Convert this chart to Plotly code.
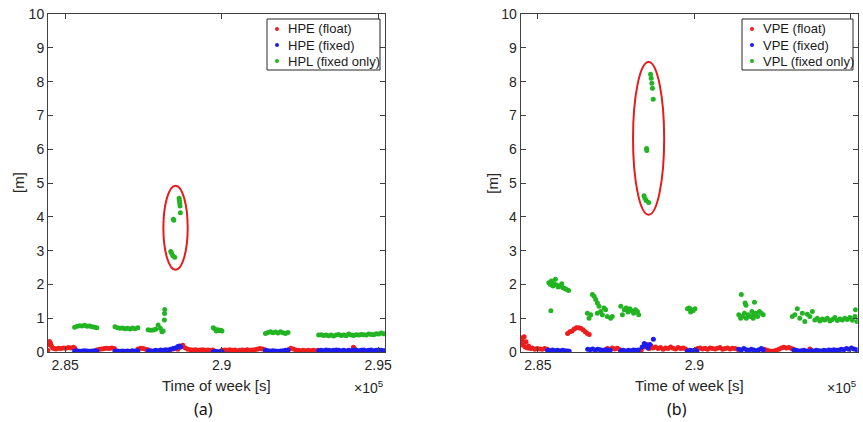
import plotly.graph_objects as go
from plotly.subplots import make_subplots

# Time of week [s] and position errors / protection levels [m].
# (a) horizontal
hpe_float_t = [284440, 284470, 284500, 284530, 284560, 284600, 284650, 284700, 284780, 284860, 284940, 285020, 285100, 285180, 285260, 285300,
               286010, 286090, 286170, 286250, 286330, 286410, 286490, 286570,
               287330, 287410, 287490, 287570, 287640,
               288350, 288450, 288600, 288700, 288760, 288840, 288920, 289000, 289080, 289160, 289240, 289320, 289400, 289480, 289560, 289640, 289720,
               290020, 290100, 290180, 290260, 290340, 290420, 290500, 290580, 290660, 290740, 290820, 290900, 290980, 291060, 291140, 291220, 291300, 291380,
               292130, 292210, 292290, 292370, 292450, 292530, 292610, 292690, 292770, 292850, 292930, 293010, 293090,
               294210, 294240]
hpe_float_v = [0.05, 0.22, 0.31, 0.26, 0.18, 0.12, 0.10, 0.09, 0.11, 0.10, 0.12, 0.11, 0.13, 0.12, 0.14, 0.12,
               0.06, 0.08, 0.09, 0.10, 0.11, 0.10, 0.12, 0.10,
               0.09, 0.11, 0.10, 0.08, 0.07,
               0.06, 0.09, 0.08, 0.17, 0.20, 0.12, 0.08, 0.07, 0.06, 0.07, 0.05, 0.06, 0.07, 0.05, 0.06, 0.05, 0.06,
               0.05, 0.06, 0.05, 0.07, 0.05, 0.06, 0.04, 0.05, 0.06, 0.05, 0.07, 0.05, 0.06, 0.07, 0.08, 0.10, 0.09, 0.07,
               0.06, 0.11, 0.09, 0.06, 0.05, 0.04, 0.05, 0.04, 0.05, 0.04, 0.05, 0.04, 0.05,
               0.14, 0.10]

hpe_fixed_t = [285300, 285380, 285460, 285540, 285620, 285700, 285780, 285860, 285940, 286010,
               286590, 286670, 286750, 286830, 286910, 286990, 287070, 287150, 287230, 287320,
               287650, 287730, 287810, 287890, 287970, 288050, 288130, 288210, 288290, 288370, 288450, 288530, 288600, 288650, 288690,
               289730, 289810, 289890, 289970, 290010,
               291400, 291480, 291560, 291640, 291720, 291800, 291880, 291960, 292040, 292120,
               293100, 293180, 293260, 293340, 293420, 293500, 293580, 293660, 293740, 293820, 293900, 293980, 294060, 294140,
               294220, 294300, 294380, 294460, 294540, 294620, 294700, 294780, 294860, 294940, 295020, 295100, 295180]
hpe_fixed_v = [0.03, 0.04, 0.02, 0.03, 0.04, 0.03, 0.02, 0.03, 0.04, 0.03,
               0.02, 0.03, 0.02, 0.03, 0.02, 0.03, 0.02, 0.04, 0.03, 0.04,
               0.03, 0.04, 0.03, 0.05, 0.04, 0.06, 0.05, 0.07, 0.06, 0.08, 0.10, 0.12, 0.16, 0.18, 0.15,
               0.01, 0.02, 0.01, 0.02, 0.01,
               0.05, 0.04, 0.03, 0.04, 0.03, 0.02, 0.03, 0.04, 0.05, 0.06,
               0.04, 0.05, 0.04, 0.06, 0.05, 0.04, 0.05, 0.06, 0.05, 0.04, 0.05, 0.03, 0.05, 0.04,
               0.06, 0.05, 0.04, 0.05, 0.06, 0.04, 0.05, 0.06, 0.04, 0.05, 0.06, 0.05, 0.04]

hpl_t = [285300, 285380, 285460, 285540, 285620, 285700, 285780, 285860, 285940, 286010,
         286590, 286670, 286750, 286830, 286910, 286990, 287070, 287150, 287230, 287320,
         287650, 287730, 287810, 287890, 287970, 288040, 288090, 288130,
         288170, 288175, 288180,
         288372, 288400, 288440, 288500, 288455, 288470, 288640, 288650, 288660, 288670, 288680,
         289730, 289780, 289830, 289880, 289930, 289980, 290010,
         291400, 291480, 291560, 291640, 291720, 291800, 291880, 291960, 292040, 292120,
         293100, 293180, 293260, 293340, 293420, 293500, 293580, 293660, 293740, 293820, 293900, 293980, 294060, 294140,
         294220, 294300, 294380, 294460, 294540, 294620, 294700, 294780, 294860, 294940, 295020, 295100, 295180]
hpl_v = [0.73, 0.76, 0.78, 0.77, 0.79, 0.76, 0.77, 0.75, 0.73, 0.72,
         0.75, 0.72, 0.70, 0.71, 0.69, 0.70, 0.68, 0.71, 0.69, 0.72,
         0.66, 0.64, 0.65, 0.67, 0.80, 0.70, 0.60, 0.62,
         0.95, 1.14, 1.26,
         2.97, 2.92, 2.85, 2.80, 3.93, 3.90, 4.55, 4.48, 4.40, 4.32, 4.12,
         0.72, 0.68, 0.62, 0.66, 0.63, 0.64, 0.62,
         0.55, 0.58, 0.60, 0.57, 0.59, 0.56, 0.60, 0.57, 0.55, 0.58,
         0.50, 0.51, 0.49, 0.50, 0.48, 0.50, 0.47, 0.50, 0.52, 0.49, 0.50, 0.48, 0.53, 0.50,
         0.49, 0.51, 0.50, 0.52, 0.51, 0.50, 0.53, 0.52, 0.51, 0.54, 0.53, 0.56, 0.54]

# (b) vertical
vpe_float_t = [284490, 284510, 284530, 284560, 284590, 284620, 284660, 284700, 284760, 284820, 284900, 284980, 285060, 285140, 285220, 285300,
               285950, 286020, 286090, 286160, 286230, 286300, 286370, 286440, 286510, 286580, 286640,
               287220, 287300, 287380, 287460, 287540, 287620,
               288300, 288400, 288480, 288560, 288620,
               288680, 288760, 288840, 288920, 289000, 289080, 289160, 289240, 289320, 289400, 289480, 289560, 289640, 289720,
               290100, 290180, 290260, 290340, 290420, 290500, 290580, 290660, 290740, 290820, 290900, 290980, 291060, 291140, 291220, 291300, 291380,
               292220, 292300, 292380, 292460, 292540, 292620, 292700, 292780, 292860, 292940, 293020, 293100, 293170,
               293690, 293720]
vpe_float_v = [0.30, 0.42, 0.20, 0.45, 0.15, 0.30, 0.12, 0.18, 0.10, 0.12, 0.08, 0.10, 0.09, 0.08, 0.10, 0.08,
               0.55, 0.60, 0.62, 0.68, 0.72, 0.72, 0.70, 0.66, 0.60, 0.55, 0.52,
               0.10, 0.08, 0.12, 0.09, 0.11, 0.07,
               0.05, 0.15, 0.22, 0.10, 0.18,
               0.12, 0.15, 0.10, 0.13, 0.08, 0.12, 0.10, 0.15, 0.11, 0.09, 0.13, 0.10, 0.12, 0.09,
               0.10, 0.12, 0.09, 0.11, 0.08, 0.12, 0.10, 0.09, 0.11, 0.13, 0.08, 0.10, 0.12, 0.09, 0.11, 0.10, 0.08,
               0.08, 0.06, 0.04, 0.02, 0.03, 0.05, 0.08, 0.12, 0.14, 0.12, 0.13, 0.10, 0.08,
               0.09, 0.06]

vpe_fixed_t = [285310, 285390, 285470, 285550, 285630, 285710, 285790, 285870, 285950, 286000,
               286590, 286670, 286750, 286830, 286910, 286990, 287070, 287150, 287230, 287310,
               287650, 287730, 287810, 287890, 287970, 288050, 288130, 288210,
               288330, 288400, 288450, 288520, 288580, 288690,
               289780, 289860, 289940, 290020, 290080,
               291420, 291500, 291580, 291660, 291740, 291820, 291900, 291980, 292060, 292140, 292200,
               293180, 293260, 293340, 293420, 293500, 293580, 293660, 293740, 293820, 293900, 293980, 294060, 294140,
               294220, 294300, 294380, 294460, 294540, 294620, 294700, 294780, 294860, 294940, 295020, 295100, 295180]
vpe_fixed_v = [0.05, 0.04, 0.06, 0.04, 0.05, 0.03, 0.05, 0.04, 0.03, 0.02,
               0.08, 0.07, 0.09, 0.06, 0.08, 0.07, 0.05, 0.07, 0.06, 0.05,
               0.04, 0.05, 0.03, 0.05, 0.04, 0.06, 0.05, 0.06,
               0.15, 0.25, 0.20, 0.12, 0.22, 0.38,
               0.03, 0.05, 0.04, 0.06, 0.03,
               0.08, 0.06, 0.10, 0.07, 0.05, 0.08, 0.06, 0.04, 0.07, 0.10, 0.06,
               0.06, 0.05, 0.03, 0.04, 0.05, 0.03, 0.02, 0.04, 0.03, 0.05, 0.04, 0.03, 0.05,
               0.04, 0.06, 0.05, 0.07, 0.05, 0.06, 0.08, 0.07, 0.10, 0.08, 0.12, 0.09, 0.07]

vpl_t = [285350, 285400, 285430, 285480, 285520, 285560, 285600, 285650, 285700, 285760, 285800, 285860, 285920, 285980, 285414,
         286582, 286635, 286688, 286741, 286794, 286847, 286900, 286900, 286953, 287006, 287059, 287112, 287165, 287218, 287324, 287377,
         287650, 287700, 287760, 287820, 287880, 287940, 288000, 288060, 288120, 288180, 288220,
         288390, 288420, 288460, 288540, 288472, 288480, 288600, 288620, 288640, 288660, 288685,
         289780, 289840, 289900, 289960, 290020, 289880,
         291500, 291620, 291650, 291920, 291420, 291480, 291540, 291600, 291660, 291720, 291780, 291840, 291900, 291960, 292020, 292080, 292140, 292200, 291880,
         293130, 293210, 293290, 293370, 293450, 293530, 293610, 293690, 293770, 293850, 293930, 294010, 294090, 294170,
         294250, 294330, 294410, 294490, 294570, 294650, 294730, 294810, 294890, 294970, 295050, 295130, 295200, 295150]
vpl_v = [2.05, 2.00, 2.10, 1.95, 2.02, 2.15, 1.98, 1.92, 1.95, 2.02, 1.90, 1.88, 1.85, 1.82, 1.22,
         1.15, 1.00, 1.10, 1.70, 1.65, 1.55, 1.45, 1.15, 1.35, 1.20, 1.10, 1.30, 1.25, 1.05, 1.00, 1.05,
         1.35, 1.10, 1.25, 1.30, 1.18, 1.28, 1.22, 1.15, 1.25, 1.20, 1.10,
         4.62, 4.55, 4.48, 4.42, 6.02, 5.96, 8.22, 8.10, 7.95, 7.80, 7.48,
         1.28, 1.30, 1.25, 1.22, 1.28, 1.18,
         1.70, 1.45, 1.38, 1.47, 1.10, 1.00, 1.05, 1.15, 1.00, 1.10, 1.05, 1.20, 1.10, 1.15, 1.05, 1.20, 1.15, 1.10, 1.00,
         1.05, 1.10, 1.28, 1.00, 1.15, 0.90, 1.12, 1.05, 1.20, 0.95, 1.00, 0.92, 0.98, 0.95,
         1.00, 0.92, 0.96, 1.02, 0.93, 0.98, 0.95, 1.00, 0.96, 1.02, 0.94, 1.05, 0.90, 1.25]

x_ticks = [285000, 290000, 295000]
x_tick_labels = ["2.85", "2.9", "2.95"]

W, H = 863, 422
RED, BLUE, GREEN = "#f01c1c", "#1c1cf0", "#22b422"
AXIS = "#404040"


def px(x):
    return x / W


def py(y):
    return 1 - y / H


fig = make_subplots(rows=1, cols=2)

# (col, legend box left/right in px, series)
panels = [
    (1, (267, 380), [("HPE (float)", hpe_float_t, hpe_float_v, RED),
                     ("HPE (fixed)", hpe_fixed_t, hpe_fixed_v, BLUE),
                     ("HPL (fixed only)", hpl_t, hpl_v, GREEN)]),
    (2, (742, 853), [("VPE (float)", vpe_float_t, vpe_float_v, RED),
                     ("VPE (fixed)", vpe_fixed_t, vpe_fixed_v, BLUE),
                     ("VPL (fixed only)", vpl_t, vpl_v, GREEN)]),
]
for col, (left, right), series in panels:
    # MATLAB-style compact legend box
    fig.add_shape(type="rect", xref="paper", yref="paper",
                  x0=px(left), x1=px(right), y0=py(70), y1=py(19),
                  line=dict(color="#262626", width=1), fillcolor="white")
    for i, (name, t, v, color) in enumerate(series):
        fig.add_trace(go.Scatter(
            x=t, y=v, mode="markers", name=name, showlegend=False,
            marker=dict(size=5, color=color, line=dict(width=0)),
        ), row=1, col=col)
        row_y = 29 + 16 * i
        fig.add_shape(type="circle", xref="paper", yref="paper",
                      xsizemode="pixel", ysizemode="pixel",
                      xanchor=px(left + 10), yanchor=py(row_y),
                      x0=-2, x1=2, y0=-2, y1=2,
                      fillcolor=color, line=dict(width=0))
        fig.add_annotation(x=px(left + 19), y=py(row_y), xref="paper", yref="paper",
                           xanchor="left", yanchor="middle", text=name, showarrow=False,
                           font=dict(size=13, color="#1a1a1a"))

# red ellipses around the protection-level outliers
def outlier_ellipse(t, v, limit, pad_t, pad_v, xref, yref):
    pts = [(a, b) for a, b in zip(t, v) if b > limit]
    ts = [p[0] for p in pts]
    vs = [p[1] for p in pts]
    mid = (min(ts) + max(ts)) / 2
    half = (max(ts) - min(ts)) / 2 + pad_t
    return dict(type="circle", xref=xref, yref=yref,
                x0=mid - half, x1=mid + half,
                y0=min(vs) - pad_v, y1=max(vs) + pad_v,
                line=dict(color="#e81a1a", width=2))

fig.add_shape(outlier_ellipse(hpl_t, hpl_v, 2, 235, 0.37, "x", "y"))
fig.add_shape(outlier_ellipse(vpl_t, vpl_v, 3, 350, 0.36, "x2", "y2"))

ax = dict(showline=True, linecolor=AXIS, linewidth=1, mirror="ticks",
          ticks="inside", ticklen=5, tickcolor=AXIS, showgrid=False,
          zeroline=False, automargin=False, tickfont=dict(size=14, color="#262626"))
fig.update_xaxes(**ax, range=[284450, 295220], tickvals=x_ticks, ticktext=x_tick_labels)
fig.update_yaxes(**ax, range=[0, 10], dtick=1)
fig.update_layout(
    xaxis=dict(domain=[px(48), px(385)]),
    xaxis2=dict(domain=[px(520.7), px(857.7)]),
    yaxis=dict(domain=[py(352), py(14)]),
    yaxis2=dict(domain=[py(352), py(14)]),
)

labels = [
    (216.5, 385, "Time of week [s]", 15, 0),
    (689.2, 385, "Time of week [s]", 15, 0),
    (18, 183, "[m]", 15, -90),
    (491.7, 183, "[m]", 15, -90),
]
for x, y, text, size, angle in labels:
    fig.add_annotation(x=px(x), y=py(y), xref="paper", yref="paper", text=text, showarrow=False,
                       xanchor="center", yanchor="middle",
                       textangle=angle, font=dict(size=size, color="#262626"))
for x in (386, 858.5):
    fig.add_annotation(x=px(x), y=py(387), xref="paper", yref="paper",
                       xanchor="right", yanchor="middle",
                       text="×10<sup>5</sup>", showarrow=False,
                       font=dict(size=14, color="#262626"))
for x, text in ((203, "(a)"), (677, "(b)")):
    fig.add_annotation(x=px(x), y=py(409), xref="paper", yref="paper", text=text,
                       xanchor="center", yanchor="middle", showarrow=False,
                       font=dict(family="Noto Sans", size=16, color="#111111"))

fig.update_layout(
    width=W, height=H,
    margin=dict(l=0, r=0, t=0, b=0),
    paper_bgcolor="white", plot_bgcolor="white",
    font=dict(family="Liberation Sans, Arial, sans-serif"),
)

fig.write_html("out.html", config={"displayModeBar": False},
               post_script="document.body.style.margin = '0';")
